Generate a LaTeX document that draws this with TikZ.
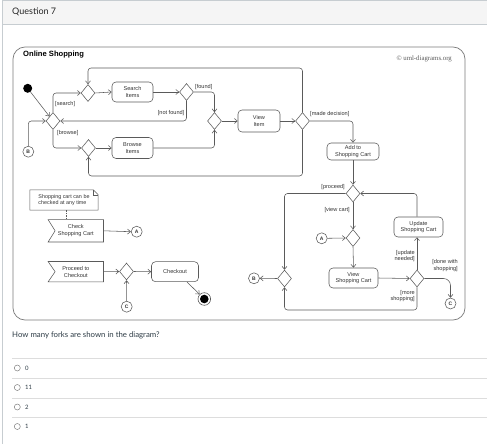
\documentclass[tikz,border=0pt]{standalone}
\usepackage{fontspec}
\setmainfont{Liberation Sans}
\newfontfamily\lato{Lato}
\newfontfamily\serifc{Liberation Serif}
\usetikzlibrary{arrows.meta,shapes.geometric,calc}
\definecolor{ln}{HTML}{5A5A5A}
\definecolor{tx}{HTML}{333333}
\definecolor{qtx}{HTML}{2D3B45}
\definecolor{hdr}{HTML}{F5F5F5}
\definecolor{brd}{HTML}{C7CDD1}
\definecolor{sep}{HTML}{DDDDDD}
\tikzset{
  lbl/.style={font=\fontsize{5.6}{6.4}\selectfont, text=tx, inner sep=0pt},
  arr/.style={draw=ln, line width=0.55pt, -{Straight Barb[length=3pt,width=5pt]}},
  dec/.style={diamond, draw=ln, line width=0.55pt, minimum width=14pt, minimum height=17pt, inner sep=0pt},
  act/.style={rectangle, rounded corners=4pt, draw=ln, line width=0.55pt, align=center, inner sep=0pt,
              font=\fontsize{5.6}{6.6}\selectfont, text=tx},
  con/.style={circle, draw=ln, line width=0.55pt, minimum size=11pt, inner sep=0pt,
              font=\fontsize{5}{5}\selectfont\bfseries, text=tx},
  ev/.style={minimum width=55pt, inner sep=0pt, align=center, font=\fontsize{5.6}{6.6}\selectfont, text=tx},
  radio/.style={circle, draw=gray, line width=0.5pt, minimum size=6pt, inner sep=0pt},
  opt/.style={font=\lato\fontsize{6}{7}\selectfont, text=qtx, anchor=west, inner sep=0pt}
}
\begin{document}
\begin{tikzpicture}[x=1pt,y=-1pt]
\useasboundingbox (0,0) rectangle (487,444);
% page chrome
\fill[hdr] (2,0) rectangle (487,24);
\draw[brd, line width=0.8pt] (2,444) -- (2,0.4) -- (487,0.4);
\draw[brd, line width=0.8pt] (2,24) -- (487,24);
\node[anchor=west, font=\lato\fontsize{9}{10}\selectfont, text=black!85, inner sep=0pt] (qtitle) at (12,12) {Question 7};

% frame
\draw[ln!80, line width=0.7pt, rounded corners=12pt] (13,47) rectangle (465,320);
\node[anchor=west, font=\fontsize{7.6}{8}\selectfont\bfseries, text=black, inner sep=0pt] (ftitle) at (23,55) {Online Shopping};
\node[anchor=east, font=\serifc\fontsize{6.8}{7}\selectfont, text=ln, inner sep=0pt] (copy) at (452,59) {© uml-diagrams.org};

% helper coordinates
\coordinate (ytop) at (0,68);
\coordinate (ymid) at (0,176);
\coordinate (ybot) at (0,310);

% nodes
\node[circle, fill=black, minimum size=9pt, inner sep=0pt] (init) at (27.7,88.3) {};
\node[dec] (d1) at (53,121) {};
\node[dec] (d2) at (88,93) {};
\node[dec] (db) at (88.5,148) {};
\node[act, minimum width=41pt, minimum height=20pt] (search) at (132.5,92) {Search\\Items};
\node[act, minimum width=41pt, minimum height=21pt] (browse) at (132.5,148) {Browse\\Items};
\node[dec] (d3) at (186.5,92) {};
\node[dec] (d4) at (214.5,121) {};
\node[act, minimum width=42pt, minimum height=22pt] (view) at (259,121) {View\\Item};
\node[dec] (d5) at (302.5,121) {};
\node[con] (b1) at (28.3,151.7) {B};

\node[act, minimum width=52pt, minimum height=17pt] (addcart) at (353,151.5) {Add to\\Shopping Cart};
\node[dec] (d6) at (353,193.5) {};
\node[dec] (d9) at (353,238) {};
\node[con] (a2) at (321.7,238.3) {A};
\node[act, minimum width=49pt, minimum height=20pt] (viewcart) at (353.5,278) {View\\Shopping Cart};
\node[act, minimum width=49pt, minimum height=20pt] (update) at (418.5,227) {Update\\Shopping Cart};
\node[dec] (d7) at (417,278.5) {};
\node[dec] (d8) at (284.5,278.5) {};
\node[con] (b2) at (254,278.3) {B};
\node[con] (c2) at (450.5,303.5) {C};

% lower left
\node[minimum width=68pt, minimum height=20pt, inner sep=0pt, align=left,
      font=\fontsize{5.4}{6.4}\selectfont, text=tx] (note) at (64,200) {Shopping cart can be\\checked at any time};
\draw[ln, line width=0.5pt] (note.north west) -- ($(note.north east)+(-5,0)$) -- ($(note.north east)+(0,5)$)
   -- (note.south east) -- (note.south west) -- cycle;
\draw[ln, line width=0.4pt] ($(note.north east)+(-5,0)$) -- ($(note.north east)+(-5,5)$) -- ($(note.north east)+(0,5)$);
\node[ev, minimum height=22pt] (check) at (75.8,230.8) {Check\\Shopping Cart};
\draw[ln, line width=0.55pt] (check.north west) -- (check.north east) -- (check.south east) -- (check.south west)
   -- ($(check.west)+(7,0)$) -- cycle;
\node[ev, minimum height=20pt] (proceed) at (75.8,271.7) {Proceed to\\Checkout};
\draw[ln, line width=0.55pt] (proceed.north west) -- (proceed.north east) -- (proceed.south east) -- (proceed.south west)
   -- ($(proceed.west)+(7,0)$) -- cycle;
\node[con] (a1) at (136.7,231.7) {A};
\node[dec] (dc) at (126.5,271.5) {};
\node[act, minimum width=47pt, minimum height=20pt] (checkout) at (175,271.7) {Checkout};
\node[con] (c1) at (126.7,306.7) {C};
\node[circle, draw=ln, line width=0.6pt, minimum size=12.6pt, inner sep=0pt] (final) at (204.3,299) {};
\fill[black] (final.center) circle (4.3pt);

% edges top
\draw[arr] (init) -- (d1);
\draw[arr, rounded corners=3pt] (b1.north) |- (d1.west);
\draw[arr, rounded corners=3pt] (d1.north) |- (d2.west);
\draw[arr, rounded corners=3pt] (d1.south) |- (db.west);
\node[lbl, anchor=west] (lsearch) at (55,104) {[search]};
\node[lbl, anchor=west] (lbrowse) at (57,133) {[browse]};
\draw[arr] (d2.east) -- (search.west);
\draw[arr] (db.east) -- (browse.west);
\draw[arr] (search.east) -- (d3.west);
\draw[arr, rounded corners=3pt] (d3.east) -| (d4.north);
\node[lbl, anchor=west] (lfound) at (195,87) {[found]};
\draw[arr, rounded corners=3pt] (d3.south) |- (d1.east);
\node[lbl, anchor=east] (lnotfound) at (184.5,113) {[not found]};
\draw[arr, rounded corners=3pt] (browse.east) -| (d4.south);
\draw[arr] (d4.east) -- (view.west);
\draw[arr] (view.east) -- (d5.west);
\draw[arr, rounded corners=3pt] (d5.north) -- (d5.north |- ytop) -| (d2.north);
\draw[arr, rounded corners=3pt] (d5.south) -- (d5.south |- ymid) -| (db.south);
\draw[arr, rounded corners=3pt] (d5.east) -| (addcart.north);
\node[lbl, anchor=west] (lmade) at (310,114) {[made decision]};

% edges right
\draw[arr] (addcart.south) -- (d6.north);
\draw[arr, rounded corners=3pt] (d6.west) -| (d8.north);
\node[lbl, anchor=east] (lproceed) at (345,187) {[proceed]};
\draw[arr] (d6.south) -- (d9.north);
\node[lbl, anchor=east] (lviewcart) at (350,210) {[view cart]};
\draw[arr] (a2.east) -- (d9.west);
\draw[arr] (d9.south) -- (viewcart.north);
\draw[arr] (viewcart.east) -- (d7.west);
\draw[arr] (d7.north) -- (update.south -| d7.north);
\node[lbl, anchor=east, align=right] (lupdate) at (415,256) {[update\\needed]};
\draw[arr, rounded corners=3pt] (update.north -| d7.north) |- (d6.east);
\draw[arr, rounded corners=7pt] (d7.east) -| (c2.north);
\node[lbl, anchor=east, align=right] (ldone) at (458,265.5) {[done with\\shopping]};
\draw[arr, rounded corners=3pt] (d7.south) -- (d7.south |- ybot) -| (d8.south);
\node[lbl, anchor=east, align=right] (lmore) at (415,296) {[more\\shopping]};
\draw[arr] (d8.west) -- (b2.east);

% edges lower left
\draw[ln, line width=0.5pt, dashed, dash pattern=on 1.5pt off 1pt] (note.south -| 66.7,0) -- (check.north -| 66.7,0);
\draw[arr] (check.east) -- (a1.west);
\draw[arr] (proceed.east) -- (dc.west);
\draw[arr] (dc.east) -- (checkout.west);
\draw[arr] (c1.north) -- (dc.south);
\draw[arr] ($(checkout.south)+(12,0)$) -- (final);

% question
\node[anchor=west, font=\lato\fontsize{7.8}{8}\selectfont, text=qtx, inner sep=0pt] (question) at (12,335) {How many forks are shown in the diagram?};
\foreach \yy in {358,378,398,417} { \draw[sep, line width=0.6pt] (12,\yy) -- (487,\yy); }
\node[radio] (r1) at (17.3,368) {};
\node[opt] (o1) at (25,368) {0};
\node[radio] (r2) at (17.3,387.5) {};
\node[opt] (o2) at (25,387.5) {11};
\node[radio] (r3) at (17.3,407) {};
\node[opt] (o3) at (25,407) {2};
\node[radio] (r4) at (17.3,426.5) {};
\node[opt] (o4) at (25,426.5) {1};
\end{tikzpicture}
\end{document}
